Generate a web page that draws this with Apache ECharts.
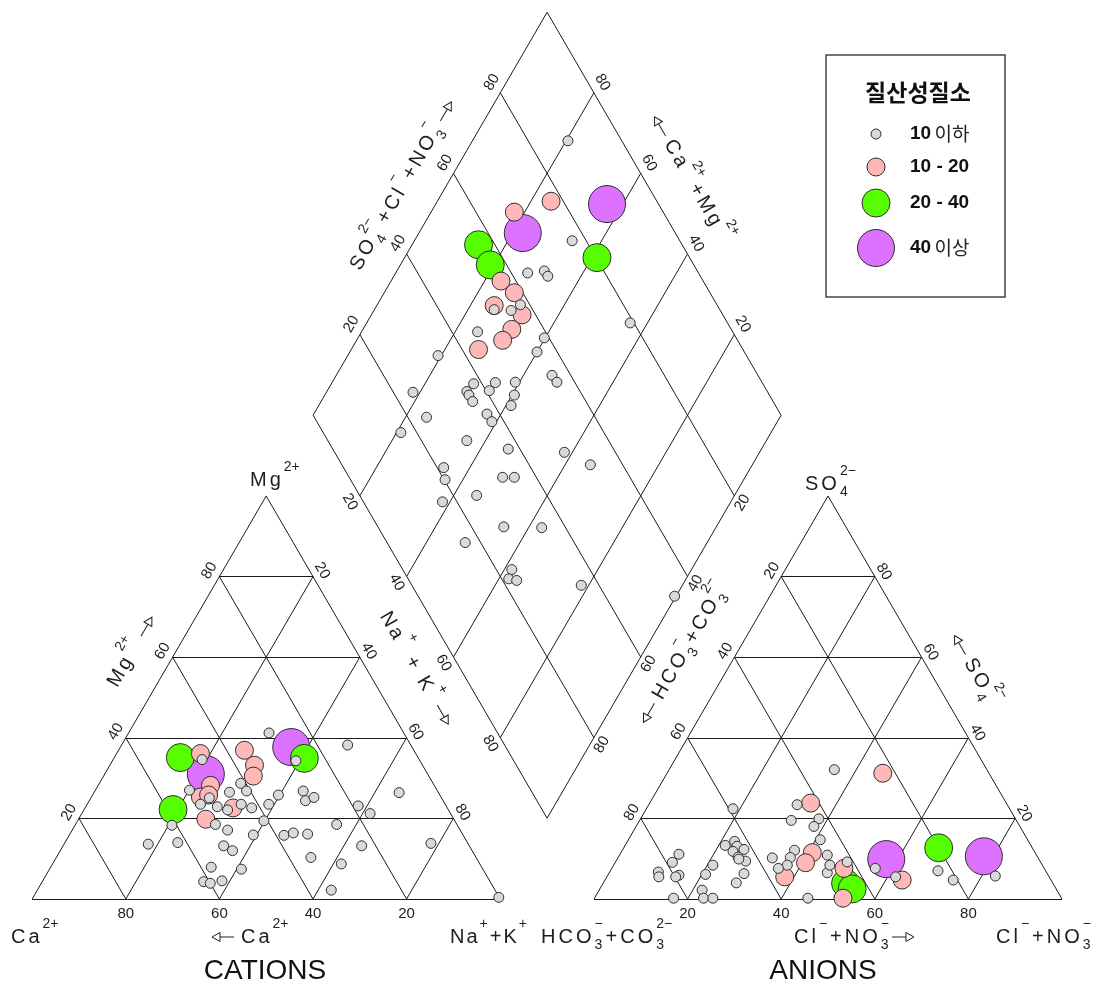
<!DOCTYPE html>
<html><head><meta charset="utf-8">
<script src="https://cdn.jsdelivr.net/npm/echarts@6/dist/echarts.min.js"></script>
<style>html,body{margin:0;padding:0;background:#fff}#main{width:1094px;height:983px}</style>
</head><body><div id="main"></div>
<script>
// ---------------- data ----------------
const groupNames = ['10 이하', '10 - 20', '20 - 40', '40 이상'];
const legendTitle = '질산성질소';
const tickValues = [20, 40, 60, 80];

// Cations (%): Mg2+, Na+ + K+  (Ca2+ = 100 - Mg - NaK); group index into groupNames
const cationMg  = [35.1,36.1,34.6,31.0,28.2,27.0,25.3,25.8,25.1,23.5,22.9,26.5,22.6,22.1,23.5,22.6,28.7,26.8,36.9,33.2,30.5,41.2,22.2,19.8,18.5,18.3,17.1,13.6,14.0,13.2,12.0,15.9,19.4,23.5,25.8,7.9,7.4,4.3,3.9,4.5,37.7,34.9,34.3,38.2,26.8,24.4,25.2,23.1,21.2,26.4,18.5,15.8,16.4,16.1,13.2,13.8,10.3,8.7,2.2,0.4];
const cationNaK = [14.1,17.9,19.0,21.6,24.0,20.1,23.3,24.8,25.3,24.2,28.1,28.9,31.6,30.7,32.9,35.6,30.2,32.4,26.9,30.9,32.0,30.0,19.0,27.2,29.9,20.7,33.2,18.0,24.1,34.3,36.8,39.3,39.8,38.8,39.7,34.3,41.0,34.5,36.1,38.3,36.5,40.7,39.2,48.3,44.5,46.2,47.6,58.1,61.6,65.2,55.8,45.9,47.6,50.8,63.8,78.3,54.4,61.7,62.8,99.5];
const cationGroup = [2,1,0,3,1,0,1,1,0,0,0,0,1,0,0,0,0,0,1,1,1,0,2,1,0,0,0,0,0,0,0,0,0,0,0,0,0,0,0,0,3,2,0,0,0,0,0,0,0,0,0,0,0,0,0,0,0,0,0,0];

// Anions (%): SO4 2-, Cl- + NO3-  (HCO3- + CO3 2- = 100 - SO4 - ClNO3)
const anionSO4   = [22.4,23.4,23.8,19.5,19.9,18.0,14.7,13.3,14.3,13.1,12.3,11.8,10.4,9.4,9.9,8.4,6.1,6.3,4.0,2.2,0.2,0.2,11.1,9.1,6.7,5.5,5.9,5.5,0.2,10.2,12.1,10.3,8.4,7.6,11.5,9.0,5.5,0.2,10.9,6.5,32.1,31.2,8.4,7.6,9.2,3.9,2.5,0.2,9.9,7.6,5.5,4.7,12.7,7.0,4.7,10.6,5.7];
const anionClNO3 = [18.5,31.7,34.4,32.4,38.1,38.0,41.0,21.4,22.9,24.0,25.9,23.8,25.6,27.7,26.0,21.2,20.8,28.9,28.4,22.0,23.3,25.3,12.6,12.2,10.4,11.1,15.2,14.7,16.9,33.0,36.8,36.8,37.1,35.6,40.9,40.7,38.0,45.6,44.4,46.6,35.3,46.1,46.2,49.6,49.5,51.8,53.9,53.1,57.5,56.3,61.7,63.5,67.3,70.0,74.4,78.0,82.9];
const anionGroup = [0,0,1,0,0,0,0,0,0,0,0,0,0,0,0,0,0,0,0,0,0,0,0,0,0,0,0,0,0,0,0,0,0,0,1,1,1,0,0,0,0,1,0,1,0,2,2,1,3,0,0,1,2,0,0,3,0];

// Diamond (%): SO4 + Cl + NO3, Ca + Mg
const diamondSO4ClNO3 = [88.5,77.4,89.0,68.2,67.4,56.5,56.5,77.0,80.2,63.5,67.3,67.4,56.8,58.2,58.0,52.3,51.8,55.3,57.1,53.1,49.8,43.5,45.5,59.0,55.7,79.2,34.1,24.2,38.2,35.8,35.8,35.8,40.7,43.0,47.3,45.5,43.5,37.3,37.4,56.0,56.2,24.0,16.6,29.7,37.5,49.1,53.1,21.4,20.2,32.8,35.3,25.0,16.9,26.9,34.9,16.7,23.3,21.5,23.0,36.2,54.8];
const diamondCaMg     = [79.6,75.7,63.4,82.2,77.8,85.8,80.8,66.3,58.9,71.8,68.5,67.1,76.5,72.2,69.4,74.9,74.4,70.7,67.8,68.2,68.8,72.8,75.2,60.2,60.0,43.7,80.7,81.5,69.6,70.1,69.2,67.6,65.4,65.1,60.9,59.5,58.9,63.0,61.0,53.9,52.0,75.5,79.1,64.0,54.1,41.7,34.6,65.6,63.8,51.8,49.3,55.1,61.6,45.4,37.2,51.7,38.4,37.9,36.0,21.6,0.3];
const diamondGroup    = [0,1,3,1,3,2,2,0,2,0,0,0,1,1,0,1,0,0,1,1,1,1,0,0,0,0,0,0,0,0,0,0,0,0,0,0,0,0,0,0,0,0,0,0,0,0,0,0,0,0,0,0,0,0,0,0,0,0,0,0,0];

// ---------------- layout / style ----------------
const GROUP_STYLE = [
  {color:'#d9d9d9', size:10},
  {color:'#ffb8b8', size:18},
  {color:'#55ff00', size:28},
  {color:'#dc72ff', size:37}
];
const CAT = {ox:32.2, oy:899, W:468, H:403};
const AN  = {ox:594,  oy:899, W:468, H:403};
const GAPF = (AN.ox - (CAT.ox + CAT.W)) / CAT.W;
const DIA = {bx:(CAT.ox + CAT.W + AN.ox)/2, by:CAT.oy - CAT.H*GAPF, W:468, H:403};

function tri(T, top, right){ // top = apex component %, right = right-corner component %
  return [T.ox + T.W*(right + top/2)/100, T.oy - T.H*top/100];
}
function dia(sc, cm){
  return [DIA.bx + (DIA.W/2)*(sc - cm)/100, DIA.by - DIA.H*(sc + cm)/100];
}

// grid segments
const segs = [];
function addTri(T){
  segs.push([tri(T,0,0), tri(T,0,100)], [tri(T,0,100), tri(T,100,0)], [tri(T,100,0), tri(T,0,0)]);
  tickValues.forEach(t=>{
    segs.push([tri(T,t,0), tri(T,t,100-t)]);
    segs.push([tri(T,0,t), tri(T,100-t,t)]);
    segs.push([tri(T,0,100-t), tri(T,100-t,0)]);
  });
}
addTri(CAT); addTri(AN);
segs.push([dia(0,0),dia(100,0)],[dia(100,0),dia(100,100)],[dia(100,100),dia(0,100)],[dia(0,100),dia(0,0)]);
tickValues.forEach(t=>{ segs.push([dia(t,0),dia(t,100)]); segs.push([dia(0,t),dia(100,t)]); });

// points per group
const pts = [[],[],[],[]];
cationMg.forEach((m,i)=>pts[cationGroup[i]].push(tri(CAT, m, cationNaK[i])));
anionSO4.forEach((s,i)=>pts[anionGroup[i]].push(tri(AN, s, anionClNO3[i])));
diamondSO4ClNO3.forEach((sc,i)=>pts[diamondGroup[i]].push(dia(sc, diamondCaMg[i])));

const chart = echarts.init(document.getElementById('main'), null, {renderer:'canvas', width:1094, height:983});
const series = [{
  type:'lines', coordinateSystem:'cartesian2d', silent:true, z:1,
  lineStyle:{color:'#1a1a1a', width:1, opacity:1},
  data: segs.map(s=>({coords:s}))
}];
[3,2,1,0].forEach((g,k)=>{
  series.push({
    type:'scatter', name:groupNames[g], data:pts[g], z:2+k, silent:true,
    symbol:'circle', symbolSize:GROUP_STYLE[g].size,
    itemStyle:{color:GROUP_STYLE[g].color, borderColor:'#2e2e2e', borderWidth:1, opacity:1},
    emphasis:{disabled:true}
  });
});
chart.setOption({
  animation:false,
  grid:{left:0,right:0,top:0,bottom:0,containLabel:false},
  xAxis:{type:'value', min:0, max:1094, show:false},
  yAxis:{type:'value', min:0, max:983, inverse:true, show:false},
  series
});

// ---------------- text & legend ----------------
const FONT = '"Liberation Sans", Arial, sans-serif';
const KFONT = '"Noto Sans CJK KR", sans-serif';
const TXT = '#1e1e1e';
const mctx = document.createElement('canvas').getContext('2d');
function tw(s, fs){ mctx.font = fs + 'px ' + FONT; return mctx.measureText(s).width; }
function P(pt){ return chart.convertToPixel({gridIndex:0}, pt); }

function textEl(s, x, y, fs, extra){
  return Object.assign({type:'text', x, y, silent:true, style:{text:s, fontSize:fs, fontFamily:FONT, fill:TXT,
    align:'left', textAlign:'left', verticalAlign:'middle', textVerticalAlign:'middle'}}, extra||{});
}
function buildLabel(tokens, fs, ls){
  const sfs = Math.round(fs*0.7);
  const kids = []; let x = 0;
  tokens.forEach(tk=>{
    if (typeof tk === 'string'){
      for (const ch of tk){ kids.push(textEl(ch, x, 0, fs)); x += tw(ch, fs) + ls; }
    } else if (tk.arrow){
      const L = 22;
      if (tk.arrow === 'r'){
        kids.push({type:'line', silent:true, shape:{x1:x, y1:0, x2:x+L-8, y2:0}, style:{stroke:TXT, lineWidth:1}});
        kids.push({type:'polygon', silent:true, shape:{points:[[x+L-8,-4.5],[x+L,0],[x+L-8,4.5]]}, style:{fill:'#fff', stroke:TXT, lineWidth:1}});
      } else {
        kids.push({type:'polygon', silent:true, shape:{points:[[x+8,-4.5],[x,0],[x+8,4.5]]}, style:{fill:'#fff', stroke:TXT, lineWidth:1}});
        kids.push({type:'line', silent:true, shape:{x1:x+8, y1:0, x2:x+L, y2:0}, style:{stroke:TXT, lineWidth:1}});
      }
      x += L + 3;
    } else if (tk.gap){ x += tk.gap; }
    else {
      let w = 0;
      if (tk.sup){ kids.push(textEl(tk.sup, x, -fs*0.62, sfs)); w = Math.max(w, tw(tk.sup, sfs)); }
      if (tk.sub){ kids.push(textEl(tk.sub, x, fs*0.42, sfs)); w = Math.max(w, tw(tk.sub, sfs)); }
      x += w + ls;
    }
  });
  return {kids, width:x};
}
function label(tokens, cx, cy, rotDeg, fs, ls, alignLeft){
  const b = buildLabel(tokens, fs, ls);
  const sh = alignLeft ? 0 : -b.width/2;
  b.kids.forEach(k=>{
    if (k.type === 'text') k.x += sh;
    else if (k.type === 'line'){ k.shape.x1 += sh; k.shape.x2 += sh; }
    else k.shape.points = k.shape.points.map(p=>[p[0]+sh, p[1]]);
  });
  return {type:'group', x:cx, y:cy, rotation:rotDeg*Math.PI/180, children:b.kids, silent:true};
}
function tick(pt, dx, dy, rot, v){
  const p = P(pt);
  return {type:'text', x:p[0]+dx, y:p[1]+dy, rotation:rot*Math.PI/180, silent:true,
    style:{text:String(v), fontSize:15, fontFamily:FONT, fill:TXT, align:'center', textAlign:'center', verticalAlign:'middle', textVerticalAlign:'middle'}};
}

const g = [];
tickValues.forEach(t=>{
  g.push(tick(tri(CAT,0,100-t), 0, 14.5, 0, t));        // Ca
  g.push(tick(tri(CAT,t,0), -10, -6, 60, t));            // Mg
  g.push(tick(tri(CAT,100-t,t), 9, -6, -60, t));         // Na+K
  g.push(tick(tri(AN,0,t), 0, 14.5, 0, t));              // Cl+NO3
  g.push(tick(tri(AN,100-t,0), -9, -6, 60, t));          // HCO3+CO3
  g.push(tick(tri(AN,t,100-t), 9, -5, -60, t));          // SO4
  g.push(tick(dia(t,100), -8.5, -10.5, 60, t));          // SO4+Cl+NO3
  g.push(tick(dia(100,t), 8.5, -10.5, -60, t));          // Ca+Mg
  g.push(tick(dia(0,100-t), -10, 6, -60, t));            // Na+K
  g.push(tick(dia(100-t,0), 8, 7, 60, t));               // HCO3+CO3
});

const FS = 20, LS = 3;
// corner / bottom labels
g.push(label(['Ca',{sup:'2+'}], 11, 937, 0, FS, LS, true));
g.push(label([{arrow:'l'},{gap:4},'Ca',{sup:'2+'}], 212, 937, 0, FS, LS, true));
g.push(label(['Na',{sup:'+'},'+K',{sup:'+'}], 450, 937, 0, FS, 2, true));
g.push(label(['Mg',{sup:'2+'}], 250, 480, 0, FS, LS, true));
g.push(label(['SO',{sub:'4', sup:'2−'}], 805, 484, 0, FS, LS, true));
g.push(label(['HCO',{sub:'3', sup:'−'},'+CO',{sub:'3', sup:'2−'}], 541, 937, 0, FS, LS, true));
g.push(label(['Cl',{sup:'−'},'+NO',{sub:'3', sup:'−'},{arrow:'r'}], 794, 937, 0, FS, LS, true));
g.push(label(['Cl',{sup:'−'},'+NO',{sub:'3', sup:'−'}], 996, 937, 0, FS, LS, true));
// rotated axis titles
g.push(label(['Mg',{sup:'2+'},{gap:4},{arrow:'r'}], 133, 650, 60, FS, LS));
g.push(label(['Na',{sup:'+'},' + K',{sup:'+'},{gap:4},{arrow:'r'}], 417, 670, -60, FS, LS));
g.push(label([{arrow:'l'},{gap:3},'HCO',{sub:'3', sup:'−'},'+CO',{sub:'3', sup:'2−'}], 684, 652, 60, FS, LS));
g.push(label([{arrow:'l'},{gap:3},'SO',{sub:'4', sup:'2−'}], 975, 671, -60, FS, LS));
g.push(label(['SO',{sub:'4', sup:'2−'},'+Cl',{sup:'−'},'+NO',{sub:'3', sup:'−'},{gap:4},{arrow:'r'}], 404, 184, 60, FS, LS));
g.push(label([{arrow:'l'},{gap:3},'Ca',{sup:'2+'},'+Mg',{sup:'2+'}], 691, 180, -60, FS, LS));
// titles
g.push({type:'text', x:265, y:971, silent:true, style:{text:'CATIONS', fontSize:28, fontFamily:FONT, fill:'#111', align:'center', textAlign:'center', verticalAlign:'middle', textVerticalAlign:'middle'}});
g.push({type:'text', x:823, y:971, silent:true, style:{text:'ANIONS', fontSize:28, fontFamily:FONT, fill:'#111', align:'center', textAlign:'center', verticalAlign:'middle', textVerticalAlign:'middle'}});

// legend
const legendRows = [134, 167, 203, 248];
const legKids = [
  {type:'rect', shape:{x:826, y:55, width:179, height:242}, style:{fill:'#fff', stroke:'#444', lineWidth:1.5}},
  {type:'text', x:918, y:92, style:{text:legendTitle, fontSize:23, fontWeight:'bold', fontFamily:KFONT, fill:'#111', align:'center', textAlign:'center', verticalAlign:'middle', textVerticalAlign:'middle'}}
];
groupNames.forEach((name, i)=>{
  legKids.push({type:'circle', shape:{cx:876, cy:legendRows[i], r:GROUP_STYLE[i].size/2}, style:{fill:GROUP_STYLE[i].color, stroke:'#2e2e2e', lineWidth:1}});
  const m = name.match(/^([\d\s\-]+?)(\s*)([^\d\s\-]*)$/);
  const num = m ? m[1] : name, kor = m ? m[3] : '';
  legKids.push({type:'text', x:910, y:legendRows[i], style:{
    text: kor ? '{b|' + num + '} {k|' + kor + '}' : '{b|' + num + '}',
    rich:{ b:{fontSize:19, fontWeight:'bold', fontFamily:FONT, fill:'#111'}, k:{fontSize:19, fontFamily:KFONT, fill:'#222'} },
    align:'left', textAlign:'left', verticalAlign:'middle', textVerticalAlign:'middle'}});
});
g.push({type:'group', silent:true, children:legKids});

chart.setOption({graphic:{elements:g}});
</script></body></html>
